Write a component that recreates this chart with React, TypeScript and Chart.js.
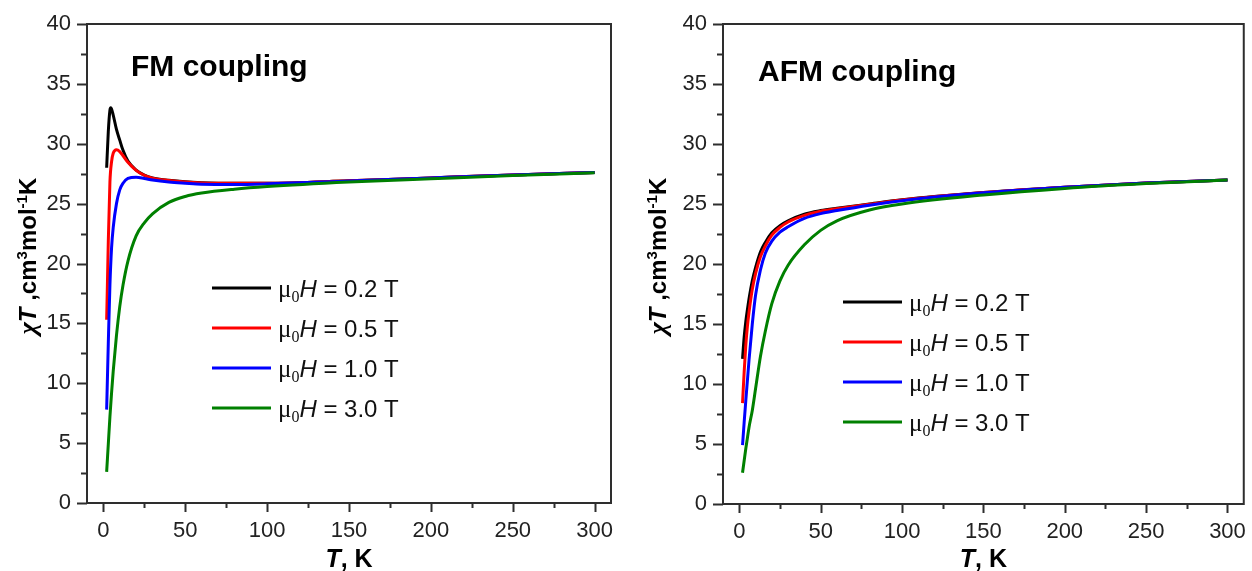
import React, { useEffect, useRef } from "react";
import { Chart, registerables } from "chart.js";
Chart.register(...registerables);

// ---------- data ----------
const X_TICKS = [0, 50, 100, 150, 200, 250, 300];
const Y_TICKS = [0, 5, 10, 15, 20, 25, 30, 35, 40];
const FIELD_LABELS = ["0.2", "0.5", "1.0", "3.0"];
const SERIES_COLORS = ["#000000", "#ff0000", "#0000ff", "#008000"];

// FM coupling
const FM_T_02 = [2, 3, 4, 4.5, 5, 6, 8, 10, 12, 15, 20, 25, 30, 40, 50, 60, 80, 100, 150, 200, 250, 300];
const FM_V_02 = [28.0, 31.0, 32.8, 33.0, 32.9, 32.4, 31.2, 30.3, 29.45, 28.55, 27.8, 27.38, 27.15, 26.95, 26.82, 26.75, 26.7, 26.7, 26.9, 27.15, 27.4, 27.6];
const FM_T_05 = [2, 2.5, 3, 4, 5, 6, 8, 10, 12, 15, 20, 25, 30, 40, 50, 60, 80, 100, 150, 200, 250, 300];
const FM_V_05 = [15.3, 18.5, 21.8, 26.8, 28.5, 29.2, 29.5, 29.35, 29.0, 28.45, 27.78, 27.37, 27.13, 26.93, 26.8, 26.73, 26.7, 26.7, 26.9, 27.15, 27.4, 27.6];
const FM_T_10 = [2, 3, 4, 5, 6, 8, 10, 12, 15, 20, 25, 30, 40, 50, 60, 80, 100, 150, 200, 250, 300];
const FM_V_10 = [7.8, 13.3, 18.2, 21.3, 23.0, 25.0, 26.15, 26.7, 27.1, 27.2, 27.1, 26.97, 26.8, 26.7, 26.62, 26.6, 26.65, 26.88, 27.15, 27.4, 27.6];
const FM_T_30 = [2, 3, 4, 5, 6, 8, 10, 12, 15, 20, 25, 30, 40, 50, 60, 80, 100, 150, 200, 250, 300];
const FM_V_30 = [2.6, 4.9, 7.2, 9.2, 11.0, 14.0, 16.4, 18.2, 20.2, 22.3, 23.4, 24.15, 25.1, 25.6, 25.88, 26.2, 26.42, 26.8, 27.08, 27.35, 27.57];

// AFM coupling
const AFM_T = [2, 3, 4, 5, 6, 8, 10, 13, 16, 20, 25, 30, 40, 50, 60, 80, 100, 150, 200, 250, 300];
const AFM_V_02 = [12.1, 13.9, 15.2, 16.2, 17.1, 18.6, 19.7, 21.0, 21.8, 22.6, 23.2, 23.6, 24.15, 24.45, 24.65, 25.0, 25.35, 25.95, 26.4, 26.75, 27.0];
const AFM_V_05 = [8.4, 11.0, 13.2, 14.8, 16.0, 17.9, 19.2, 20.6, 21.5, 22.4, 23.05, 23.5, 24.05, 24.4, 24.6, 24.98, 25.33, 25.95, 26.4, 26.75, 27.0];
const AFM_V_10 = [4.9, 6.8, 8.6, 10.3, 12.0, 15.0, 17.4, 19.5, 20.9, 21.9, 22.65, 23.1, 23.8, 24.2, 24.45, 24.9, 25.28, 25.93, 26.4, 26.75, 27.0];
const AFM_V_30 = [2.6, 3.6, 4.6, 5.5, 6.4, 7.8, 9.6, 12.3, 14.4, 16.7, 18.6, 19.9, 21.6, 22.8, 23.6, 24.5, 25.0, 25.75, 26.3, 26.7, 27.0];

const FM_SERIES = [
  { t: FM_T_02, v: FM_V_02 },
  { t: FM_T_05, v: FM_V_05 },
  { t: FM_T_10, v: FM_V_10 },
  { t: FM_T_30, v: FM_V_30 },
];
const AFM_SERIES = [
  { t: AFM_T, v: AFM_V_02 },
  { t: AFM_T, v: AFM_V_05 },
  { t: AFM_T, v: AFM_V_10 },
  { t: AFM_T, v: AFM_V_30 },
];

// ---------- styling ----------
const SANS = "'Liberation Sans', Arial, sans-serif";
const SERIF = "'Liberation Serif', 'Times New Roman', serif";
const AXIS_COLOR = "#2e2e2e";
const TICK_COLOR = "#222222";

type Run = { t: string; font: string; dy?: number };

function runsWidth(ctx: CanvasRenderingContext2D, runs: Run[]) {
  let w = 0;
  for (const r of runs) {
    ctx.font = r.font;
    w += ctx.measureText(r.t).width;
  }
  return w;
}
function drawRuns(ctx: CanvasRenderingContext2D, runs: Run[], x: number, y: number) {
  let cx = x;
  for (const r of runs) {
    ctx.font = r.font;
    ctx.fillText(r.t, cx, y + (r.dy || 0));
    cx += ctx.measureText(r.t).width;
  }
}

const decorPlugin = {
  id: "decor",
  afterDraw(chart: any, _args: any, opts: any) {
    const ctx: CanvasRenderingContext2D = chart.ctx;
    const a = chart.chartArea;
    const xs = chart.scales.x;
    const ys = chart.scales.y;
    ctx.save();
    // frame
    ctx.strokeStyle = AXIS_COLOR;
    ctx.lineWidth = 2;
    ctx.strokeRect(a.left, a.top, a.right - a.left, a.bottom - a.top);
    // ticks
    ctx.beginPath();
    for (let v = 0; v <= 40.001; v += 2.5) {
      const py = Math.round(ys.getPixelForValue(v)) + 0.5;
      const len = Math.abs(v % 5) < 1e-6 ? 10 : 6;
      ctx.moveTo(a.left - len, py);
      ctx.lineTo(a.left, py);
    }
    for (let v = 0; v <= 300.001; v += 25) {
      const px = Math.round(xs.getPixelForValue(v)) + 0.5;
      const len = Math.abs(v % 50) < 1e-6 ? 9 : 5;
      ctx.moveTo(px, a.bottom);
      ctx.lineTo(px, a.bottom + len);
    }
    ctx.stroke();

    ctx.fillStyle = "#000";
    ctx.textBaseline = "alphabetic";
    ctx.textAlign = "left";
    // panel title
    ctx.font = `bold 30px ${SANS}`;
    ctx.fillText(opts.title, opts.titleX, opts.titleY);

    // legend
    for (let i = 0; i < SERIES_COLORS.length; i++) {
      const y = opts.legendY + i * 40;
      ctx.strokeStyle = SERIES_COLORS[i];
      ctx.lineWidth = 3;
      ctx.beginPath();
      ctx.moveTo(opts.legendX, y);
      ctx.lineTo(opts.legendX + 59, y);
      ctx.stroke();
      ctx.fillStyle = "#111";
      drawRuns(
        ctx,
        [
          { t: "μ", font: `25px ${SERIF}` },
          { t: "0", font: `16px ${SERIF}`, dy: 5 },
          { t: "H", font: `italic 24px ${SANS}` },
          { t: ` = ${FIELD_LABELS[i]} T`, font: `24px ${SANS}` },
        ],
        opts.legendX + 66,
        y + 9
      );
    }

    // x axis title
    ctx.fillStyle = "#000";
    const xRuns: Run[] = [
      { t: "T", font: `italic bold 25px ${SANS}` },
      { t: ", K", font: `bold 25px ${SANS}` },
    ];
    const xw = runsWidth(ctx, xRuns);
    drawRuns(ctx, xRuns, (a.left + a.right) / 2 - xw / 2, 567);

    // y axis title (rotated)
    const yRuns: Run[] = [
      { t: "χ", font: `italic bold 26px ${SERIF}` },
      { t: "T", font: `italic bold 24px ${SANS}` },
      { t: " ,cm", font: `bold 24px ${SANS}` },
      { t: "3", font: `bold 15px ${SANS}`, dy: -9 },
      { t: "mol", font: `bold 24px ${SANS}` },
      { t: "-1", font: `bold 15px ${SANS}`, dy: -9 },
      { t: "K", font: `bold 24px ${SANS}` },
    ];
    const yw = runsWidth(ctx, yRuns);
    ctx.translate(opts.yTitleX, opts.yTitleY);
    ctx.rotate(-Math.PI / 2);
    drawRuns(ctx, yRuns, -yw / 2, 0);
    ctx.restore();
  },
};

type PanelCfg = {
  series: { t: number[]; v: number[] }[];
  title: string;
  titleX: number;
  titleY: number;
  legendX: number;
  legendY: number;
  yTitleX: number;
  yTitleY: number;
  yAxisWidth: number;
  xAxisHeight: number;
  padRight: number;
};

function Panel({ cfg, left, width }: { cfg: PanelCfg; left: number; width: number }) {
  const ref = useRef<HTMLCanvasElement>(null);
  useEffect(() => {
    const datasets = cfg.series.map((s, i) => ({
      label: `μ0H = ${FIELD_LABELS[i]} T`,
      data: s.t.map((t, j) => ({ x: t, y: s.v[j] })),
      borderColor: SERIES_COLORS[i],
      backgroundColor: SERIES_COLORS[i],
      borderWidth: 3,
      pointRadius: 0,
      cubicInterpolationMode: "monotone" as const,
      fill: false,
      order: SERIES_COLORS.length - 1 - i,
    }));
    const chart = new Chart(ref.current!, {
      type: "line",
      data: { datasets },
      options: {
        responsive: false,
        animation: false,
        events: [],
        layout: { padding: { left: 0, right: cfg.padRight, top: 24, bottom: 0 } },
        scales: {
          x: {
            type: "linear",
            min: -10,
            max: 310,
            afterBuildTicks: (s: any) => {
              s.ticks = X_TICKS.map((v) => ({ value: v }));
            },
            afterFit: (s: any) => {
              s.height = cfg.xAxisHeight;
            },
            grid: { display: true, drawOnChartArea: false, drawTicks: true, tickLength: 9, color: "rgba(0,0,0,0)" },
            border: { display: false },
            ticks: { color: TICK_COLOR, font: { family: SANS, size: 22 }, padding: 6, maxRotation: 0 },
          },
          y: {
            type: "linear",
            min: 0,
            max: 40,
            afterBuildTicks: (s: any) => {
              s.ticks = Y_TICKS.map((v) => ({ value: v }));
            },
            afterFit: (s: any) => {
              s.width = cfg.yAxisWidth;
            },
            grid: { display: true, drawOnChartArea: false, drawTicks: true, tickLength: 10, color: "rgba(0,0,0,0)" },
            border: { display: false },
            ticks: { color: TICK_COLOR, font: { family: SANS, size: 22 }, padding: 6 },
          },
        },
        plugins: {
          legend: { display: false },
          tooltip: { enabled: false },
          decor: {
            title: cfg.title,
            titleX: cfg.titleX,
            titleY: cfg.titleY,
            legendX: cfg.legendX,
            legendY: cfg.legendY,
            yTitleX: cfg.yTitleX,
            yTitleY: cfg.yTitleY,
          },
        } as any,
      },
      plugins: [decorPlugin],
    });
    return () => chart.destroy();
  }, []);
  return (
    <canvas
      ref={ref}
      width={width}
      height={571}
      style={{ position: "absolute", left, top: 0, width, height: 571, display: "block" }}
    />
  );
}

const FM_CFG: PanelCfg = {
  series: FM_SERIES,
  title: "FM coupling",
  titleX: 131,
  titleY: 76,
  legendX: 212,
  legendY: 288,
  yTitleX: 36,
  yTitleY: 256,
  yAxisWidth: 87,
  xAxisHeight: 68,
  padRight: 15,
};
const AFM_CFG: PanelCfg = {
  series: AFM_SERIES,
  title: "AFM coupling",
  titleX: 132,
  titleY: 81,
  legendX: 217,
  legendY: 302,
  yTitleX: 40,
  yTitleY: 256,
  yAxisWidth: 97,
  xAxisHeight: 67,
  padRight: 5,
};

export default function App() {
  return (
    <div style={{ position: "fixed", left: 0, top: 0, width: 1252, height: 571, background: "#fff", overflow: "hidden" }}>
      <Panel cfg={FM_CFG} left={0} width={626} />
      <Panel cfg={AFM_CFG} left={626} width={626} />
    </div>
  );
}
